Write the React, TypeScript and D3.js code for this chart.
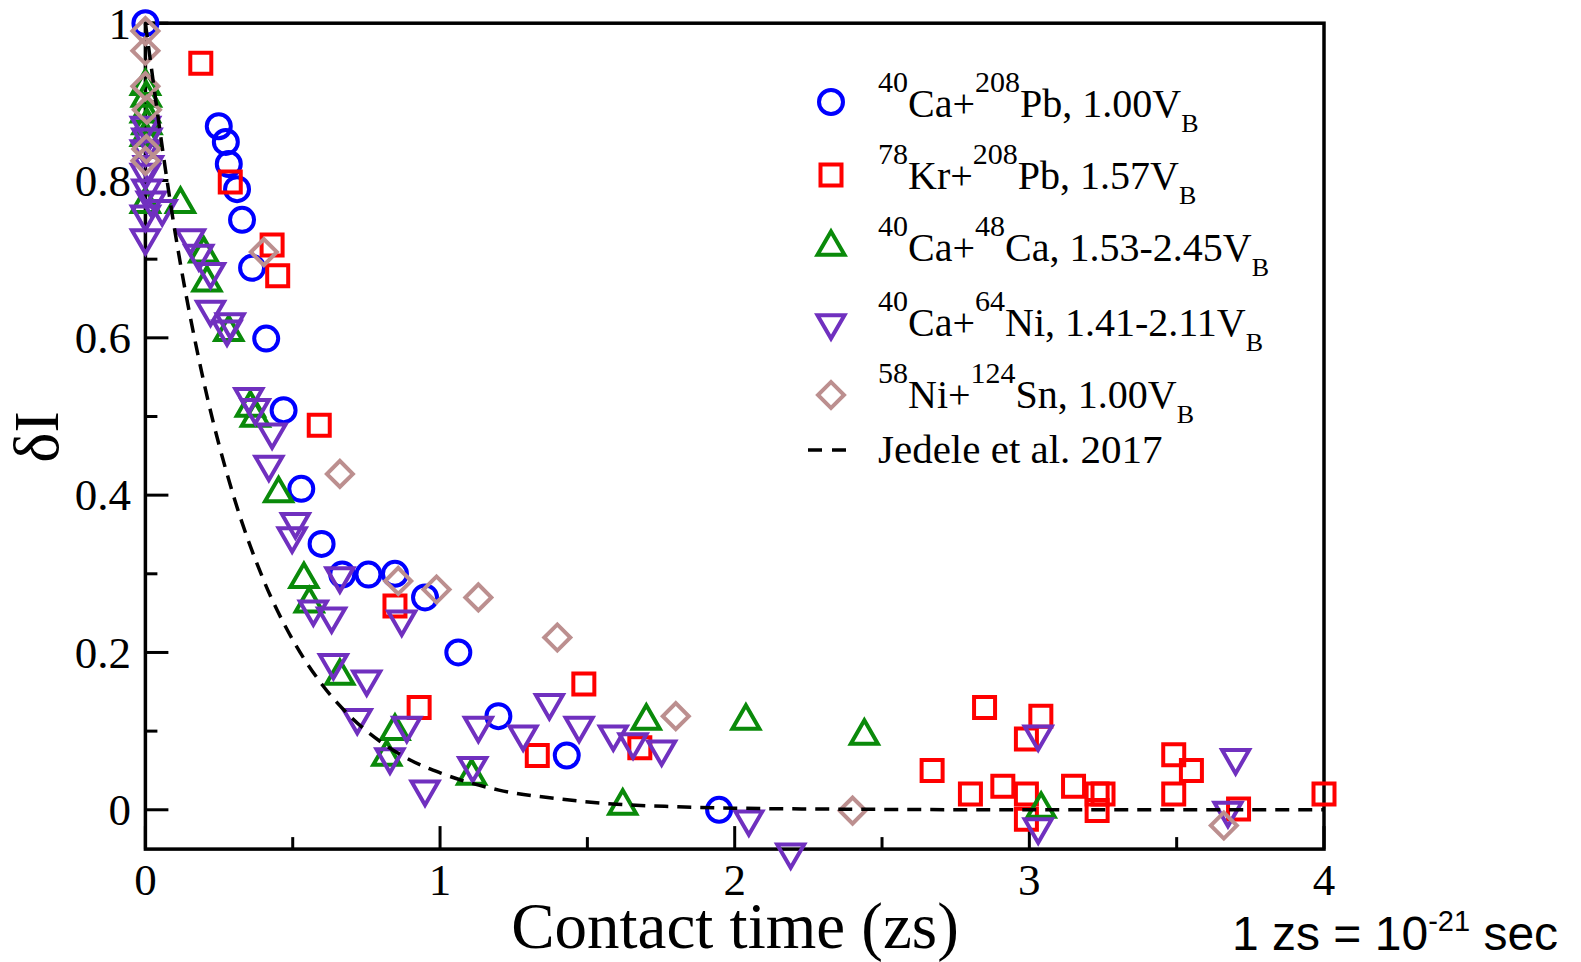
import React from "react";
import * as d3 from "d3";

// [contact time (zs), deltaI]
const caPb: [number, number][] = [
  [0, 1.0], [0.249, 0.869], [0.273, 0.849], [0.283, 0.821], [0.311, 0.789],
  [0.328, 0.75], [0.362, 0.689], [0.41, 0.599], [0.469, 0.508], [0.529, 0.408],
  [0.598, 0.338], [0.668, 0.299], [0.757, 0.299], [0.847, 0.3], [0.949, 0.27],
  [1.062, 0.2], [1.198, 0.119], [1.43, 0.069], [1.947, 0.0],
];
const krPb: [number, number][] = [
  [0.188, 0.949], [0.288, 0.798], [0.43, 0.718], [0.449, 0.679], [0.59, 0.489],
  [0.847, 0.259], [0.929, 0.13], [1.33, 0.069], [1.488, 0.16], [1.678, 0.079],
  [2.67, 0.05], [2.8, 0.02], [2.848, 0.13], [2.91, 0.03], [2.99, 0.02],
  [2.99, -0.012], [2.99, 0.09], [3.039, 0.119], [3.15, 0.03], [3.23, 0.02],
  [3.25, 0.02], [3.23, -0.001], [3.49, 0.07], [3.55, 0.05], [3.49, 0.02],
  [3.71, 0.001], [4.0, 0.02],
];
const caCa: [number, number][] = [
  [0, 0.92], [0.003, 0.905], [0, 0.885], [0.005, 0.87], [0, 0.855], [0, 0.77],
  [0.119, 0.77], [0.198, 0.707], [0.209, 0.67], [0.283, 0.607], [0.356, 0.511],
  [0.373, 0.498], [0.452, 0.402], [0.538, 0.293], [0.556, 0.262], [0.66, 0.17],
  [0.847, 0.1], [0.819, 0.067], [1.107, 0.043], [1.62, 0.005], [1.7, 0.113],
  [2.038, 0.113], [2.44, 0.094], [3.04, 0.001],
];
const caNi: [number, number][] = [
  [0, 0.87], [0.005, 0.855], [0, 0.84], [0.01, 0.82], [0, 0.81], [0.005, 0.79],
  [0.02, 0.775], [0, 0.757], [0.057, 0.764], [0, 0.727],
  [0.153, 0.727], [0.181, 0.707], [0.221, 0.684], [0.221, 0.636], [0.288, 0.62],
  [0.277, 0.611], [0.351, 0.525], [0.373, 0.511], [0.43, 0.48], [0.419, 0.439],
  [0.509, 0.366], [0.498, 0.348], [0.66, 0.297], [0.57, 0.255], [0.632, 0.246],
  [0.638, 0.187], [0.751, 0.166], [0.719, 0.117], [0.87, 0.242], [0.887, 0.107],
  [0.83, 0.067], [0.949, 0.026], [1.111, 0.056], [1.13, 0.107], [1.282, 0.096],
  [1.371, 0.136], [1.472, 0.107], [1.588, 0.096], [1.655, 0.086], [1.752, 0.077],
  [2.048, -0.012], [2.19, -0.054], [3.03, 0.096], [3.03, -0.022], [3.7, 0.066],
  [3.674, -0.001],
];
const niSn: [number, number][] = [
  [0, 0.99], [0, 0.965], [0, 0.92], [0.005, 0.89], [0.003, 0.84], [0, 0.825],
  [0.402, 0.709], [0.66, 0.427], [0.858, 0.291], [0.988, 0.28], [1.13, 0.27],
  [1.398, 0.219], [1.8, 0.119], [2.4, -0.001], [3.66, -0.02],
];
// Jedele et al. 2017 curve
const jedele: [number, number][] = [
  [0, 1.0], [0.1, 0.736], [0.2, 0.541], [0.3, 0.398], [0.4, 0.293], [0.5, 0.216],
  [0.6, 0.159], [0.7, 0.117], [0.8, 0.086], [0.9, 0.063], [1.0, 0.047],
  [1.2, 0.025], [1.4, 0.014], [1.6, 0.007], [1.8, 0.004], [2.0, 0.002],
  [2.5, 0.0005], [3.0, 0], [3.5, 0], [4.0, 0],
];

const xTicks = [0, 1, 2, 3, 4];
const xMinor = [0.5, 1.5, 2.5, 3.5];
const yTicks = [0, 0.2, 0.4, 0.6, 0.8, 1];
const yMinor = [0.1, 0.3, 0.5, 0.7, 0.9];

const W = 1581;
const H = 962;
const left = 145.4, right = 1324, top = 23.2, bottom = 849.1;
const serif = "'Liberation Serif', 'Times New Roman', serif";

const x = d3.scaleLinear().domain([0, 4]).range([left, right]);
const y = d3.scaleLinear().domain([-0.05, 1]).range([bottom, top]);

const circlePath = d3.symbol(d3.symbolCircle, 452)()!;
const squarePath = d3.symbol(d3.symbolSquare, 441)()!;
const triPath = d3.symbol(d3.symbolTriangle, 316)()!;
const diamondPath = d3.symbol(d3.symbolSquare, 338)()!;

const series = [
  { name: "caPb", data: caPb, color: "#0000ff", d: circlePath, rot: 0 },
  { name: "krPb", data: krPb, color: "#ff0000", d: squarePath, rot: 0 },
  { name: "caCa", data: caCa, color: "#0a8a0a", d: triPath, rot: 0 },
  { name: "caNi", data: caNi, color: "#7030bf", d: triPath, rot: 180 },
  { name: "niSn", data: niSn, color: "#bc8f8f", d: diamondPath, rot: 45 },
];

const Marker = ({ cx, cy, s }: { cx: number; cy: number; s: typeof series[0] }) => (
  <path
    d={s.d}
    transform={`translate(${cx},${cy}) rotate(${s.rot})`}
    fill="none"
    stroke={s.color}
    strokeWidth={4}
  />
);

const Sup = ({ t }: { t: string }) => (
  <tspan fontSize={30} dy={-25}>{t}</tspan>
);

const legendRows = [
  { iso1: "40", el1: "Ca+", iso2: "208", el2: "Pb, 1.00V" },
  { iso1: "78", el1: "Kr+", iso2: "208", el2: "Pb, 1.57V" },
  { iso1: "40", el1: "Ca+", iso2: "48", el2: "Ca, 1.53-2.45V" },
  { iso1: "40", el1: "Ca+", iso2: "64", el2: "Ni, 1.41-2.11V" },
  { iso1: "58", el1: "Ni+", iso2: "124", el2: "Sn, 1.00V" },
];
const legendY = [102, 175, 247, 323, 395];
const legendBase = [117, 189, 261, 336, 408];

export default function App() {
  const line = d3
    .line<[number, number]>()
    .x((d) => x(d[0]))
    .y((d) => y(d[1]))
    .curve(d3.curveMonotoneX);

  return (
    <svg
      width={W}
      height={H}
      style={{ position: "absolute", left: 0, top: 0, display: "block", background: "#fff" }}
      fontFamily={serif}
    >
      {/* ticks */}
      {xTicks.map((t) => (
        <line key={"xt" + t} x1={x(t)} x2={x(t)} y1={bottom} y2={bottom - 23} stroke="#000" strokeWidth={3} />
      ))}
      {xMinor.map((t) => (
        <line key={"xm" + t} x1={x(t)} x2={x(t)} y1={bottom} y2={bottom - 12} stroke="#000" strokeWidth={3} />
      ))}
      {yTicks.map((t) => (
        <line key={"yt" + t} x1={left} x2={left + 23} y1={y(t)} y2={y(t)} stroke="#000" strokeWidth={3} />
      ))}
      {yMinor.map((t) => (
        <line key={"ym" + t} x1={left} x2={left + 12} y1={y(t)} y2={y(t)} stroke="#000" strokeWidth={3} />
      ))}

      {/* frame */}
      <rect x={left} y={top} width={right - left} height={bottom - top} fill="none" stroke="#000" strokeWidth={3.5} />

      {/* tick labels */}
      {xTicks.map((t) => (
        <text key={"xl" + t} x={x(t)} y={895} textAnchor="middle" fontSize={45}>
          {t}
        </text>
      ))}
      {yTicks.map((t) => (
        <text key={"yl" + t} x={131} y={y(t)} dy="0.34em" textAnchor="end" fontSize={45}>
          {t}
        </text>
      ))}

      {/* axis titles */}
      <text x={735} y={948} textAnchor="middle" fontSize={65}>
        Contact time (zs)
      </text>
      <text transform="translate(58,437) rotate(-90)" textAnchor="middle" fontSize={64}>
        δI
      </text>
      <text x={1232} y={950} fontSize={48} fontFamily="'Liberation Sans', Arial, sans-serif">
        1 zs = 10<tspan fontSize={29} dy={-19}>-21</tspan>
        <tspan dy={19}> sec</tspan>
      </text>

      {/* data */}
      {series.map((s) => (
        <g key={s.name}>
          {s.data.map((p, i) => (
            <Marker key={i} cx={x(p[0])} cy={y(p[1])} s={s} />
          ))}
        </g>
      ))}

      <path d={line(jedele) || ""} fill="none" stroke="#000" strokeWidth={3.5} strokeDasharray="14,9" />

      {/* legend */}
      {series.map((s, i) => (
        <Marker key={"lg" + s.name} cx={831} cy={legendY[i]} s={s} />
      ))}
      {legendRows.map((r, i) => (
        <text key={"lt" + i} x={878} y={legendBase[i]} fontSize={40}>
          <Sup t={r.iso1} />
          <tspan dy={25}>{r.el1}</tspan>
          <Sup t={r.iso2} />
          <tspan dy={25}>{r.el2}</tspan>
          <tspan fontSize={26} dy={15}>B</tspan>
        </text>
      ))}
      <line x1={808} x2={854} y1={450} y2={450} stroke="#000" strokeWidth={3.5} strokeDasharray="14,10" />
      <text x={878} y={463} fontSize={41}>
        Jedele et al. 2017
      </text>
    </svg>
  );
}
